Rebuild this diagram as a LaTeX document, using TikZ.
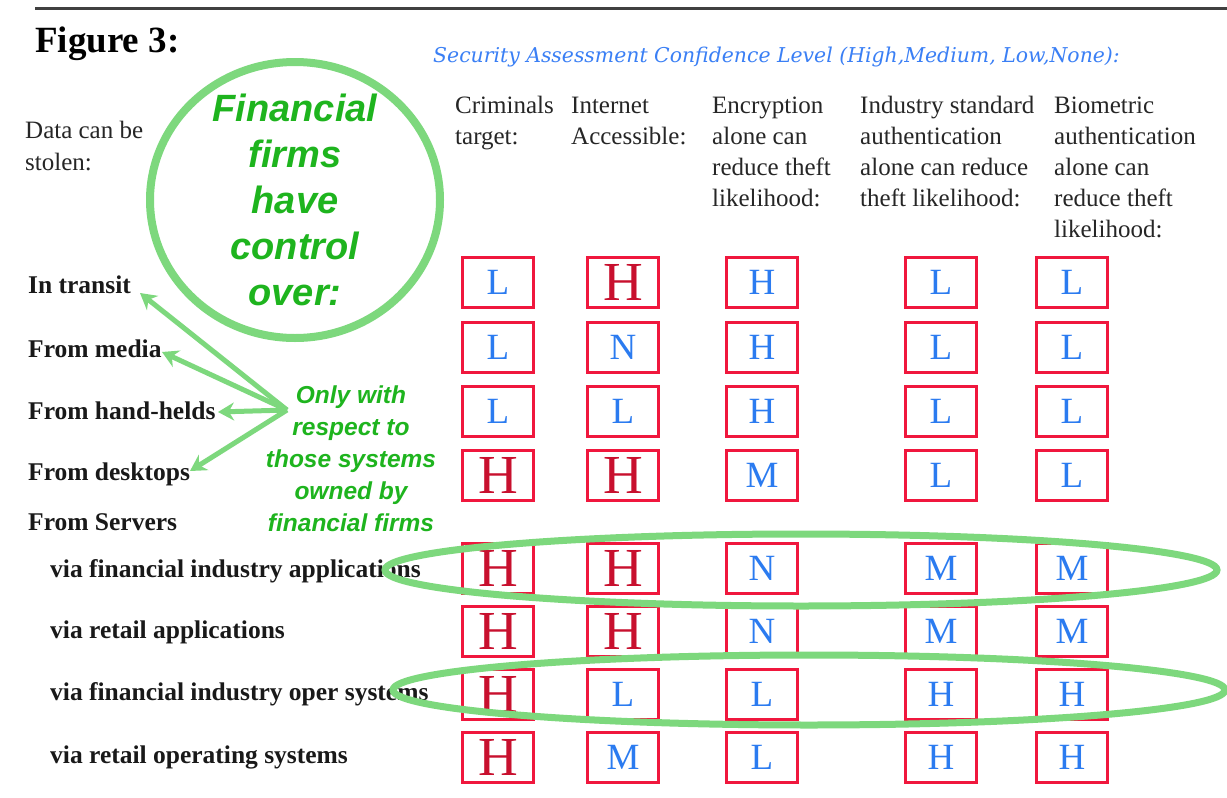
\documentclass[tikz,border=0pt]{standalone}
\usepackage{fontspec}
\setmainfont{Liberation Serif}
\newfontfamily\gsans{Liberation Sans}
\newfontfamily\dvserif{DejaVu Serif}
\usetikzlibrary{arrows.meta,shapes.geometric}
\definecolor{boxred}{HTML}{F0173D}
\definecolor{lblue}{HTML}{2B7BF0}
\definecolor{hred}{HTML}{C8102E}
\definecolor{chalk}{HTML}{7DD87D}
\definecolor{gtext}{HTML}{1EB41E}
\definecolor{hdrblue}{HTML}{3A7FF5}
\begin{document}
\begin{tikzpicture}[x=1pt,y=-1pt,
  cell/.style={draw=boxred, line width=3pt, minimum width=71pt, minimum height=50pt, inner sep=0pt},
  cellb/.style={cell, text=lblue, font=\fontsize{37}{37}\selectfont},
  cellr/.style={cell, text=hred, font=\fontsize{55}{55}\selectfont},
  hdr/.style={anchor=base west, align=left, inner sep=0pt, text=black!85, font=\fontsize{25}{31}\selectfont},
  rowlbl/.style={anchor=base west, inner sep=0pt, text=black!90, font=\fontsize{25.5}{30}\selectfont\bfseries},
  chalkline/.style={draw=chalk, line width=7pt},
  garrow/.style={chalk, line width=5pt, -{Stealth[length=16pt,width=18pt]}},
  gnote/.style={text=gtext, align=center, inner sep=0pt, anchor=base}
]
\useasboundingbox (0,0) rectangle (1227,798);
\fill[white] (0,0) rectangle (1227,798);
\draw[line width=3pt, black!75] (35,8) -- (1227,8);

\node[anchor=base west, inner sep=0pt, font=\fontsize{37}{40}\selectfont\bfseries] (fig) at (35,52) {Figure 3:};
\node[anchor=base west, inner sep=0pt, text=hdrblue, font=\fontsize{20.4}{22}\selectfont\dvserif\itshape] (title) at (433,62) {Security Assessment Confidence Level (High,Medium, Low,None):};

% multi-line nodes: the base anchor is the baseline of the last line
\node[hdr, font=\fontsize{25}{32}\selectfont] (data) at (25,170) {Data can be\\stolen:};
\node[hdr] (h1) at (455,144) {Criminals\\target:};
\node[hdr] (h2) at (571,144) {Internet\\Accessible:};
\node[hdr] (h3) at (712,206) {Encryption\\alone can\\reduce theft\\likelihood:};
\node[hdr] (h4) at (860,206) {Industry standard\\authentication\\alone can reduce\\theft likelihood:};
\node[hdr] (h5) at (1054,237) {Biometric\\authentication\\alone can\\reduce theft\\likelihood:};

\node[rowlbl] (r1) at (28,293) {In transit};
\node[rowlbl] (r2) at (28,357) {From media};
\node[rowlbl] (r3) at (28,419) {From hand-helds};
\node[rowlbl] (r4) at (28,480) {From desktops};
\node[rowlbl] (r5) at (28,530) {From Servers};
\node[rowlbl] (r6) at (50,577) {via financial industry applications};
\node[rowlbl] (r7) at (50,638) {via retail applications};
\node[rowlbl] (r8) at (50,700) {via financial industry oper systems};
\node[rowlbl] (r9) at (50,763) {via retail operating systems};

\foreach \r/\y/\row in {
  1/282/{L/b,H/r,H/b,L/b,L/b},
  2/347/{L/b,N/b,H/b,L/b,L/b},
  3/411/{L/b,L/b,H/b,L/b,L/b},
  4/475/{H/r,H/r,M/b,L/b,L/b},
  5/568/{H/r,H/r,N/b,M/b,M/b},
  6/631/{H/r,H/r,N/b,M/b,M/b},
  7/694/{H/r,L/b,L/b,H/b,H/b},
  8/757/{H/r,M/b,L/b,H/b,H/b}} {
  \foreach \v/\t [count=\c] in \row {
    \pgfmathsetmacro{\cx}{{498,623,762,941,1072}[\c-1]}
    \node[cell\t] (c\r-\c) at (\cx,\y) {\v};
  }
}

% circle and its text
\node[ellipse, chalkline, line width=8pt, minimum width=290pt, minimum height=276pt] (ring) at (295,200) {};
\node[gnote, font={\fontsize{38}{46}\selectfont\gsans\bfseries\itshape}] (ctl) at (295,305) {Financial\\firms\\have\\control\\over:};

% note and arrows
\node[gnote, font={\fontsize{24.5}{32}\selectfont\gsans\bfseries\itshape}] (note) at (351,531) {Only with\\respect to\\those systems\\owned by\\financial firms};
\coordinate (hub) at (287,410);
\coordinate (t1) at (140,293);
\coordinate (t2) at (162,352);
\coordinate (t3) at (218,412);
\coordinate (t4) at (190,471);
\draw[garrow] (hub) -- (t1);
\draw[garrow] (hub) -- (t2);
\draw[garrow] (hub) -- (t3);
\draw[garrow] (hub) -- (t4);

% ellipses round server rows
\node[ellipse, chalkline, minimum width=832pt, minimum height=72pt] (ov1) at (801,570) {};
\node[ellipse, chalkline, minimum width=832pt, minimum height=70pt] (ov2) at (809,690) {};
\end{tikzpicture}
\end{document}
